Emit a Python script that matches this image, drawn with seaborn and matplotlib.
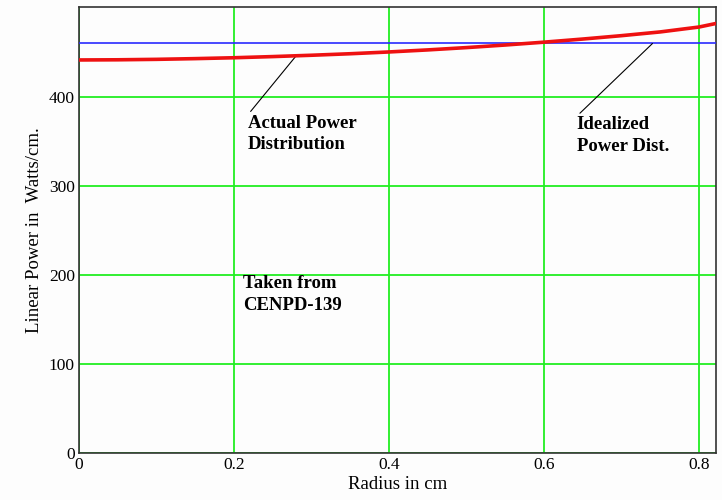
import matplotlib
matplotlib.use("Agg")
import matplotlib.pyplot as plt
import seaborn as sns
import pandas as pd

radius = [0.0, 0.05, 0.1, 0.15, 0.2, 0.25, 0.3, 0.35, 0.4, 0.45, 0.5, 0.55, 0.6, 0.65, 0.7, 0.75, 0.8, 0.822]
actual_power = [441.5, 441.7, 442.2, 443.0, 444.0, 445.3, 446.8, 448.5, 450.5, 452.8, 455.4, 458.3, 461.5, 465.0, 468.8, 473.0, 478.5, 482.5]
ideal_power = 460.0
x_ticks = [0, 0.2, 0.4, 0.6, 0.8]
x_tick_labels = ["0", "0.2", "0.4", "0.6", "0.8"]
y_ticks = [0, 100, 200, 300, 400]

sns.set_style("white")
plt.rcParams["font.family"] = ["Liberation Serif", "DejaVu Serif"]
plt.rcParams["text.color"] = "black"
plt.rcParams["axes.labelcolor"] = "black"
plt.rcParams["xtick.color"] = "black"
plt.rcParams["ytick.color"] = "black"

fig = plt.figure(figsize=(7.22, 5.0), dpi=100)
fig.patch.set_facecolor("#fdfdfd")
ax = fig.add_axes([0.1094, 0.094, 0.8823, 0.892])
ax.set_facecolor("#fdfdfd")

df = pd.DataFrame({"r": radius, "p": actual_power})
ax.set_xlim(0, 0.822)
ax.set_ylim(0, 501)
ax.set_xticks(x_ticks)
ax.set_xticklabels(x_tick_labels)
ax.set_yticks(y_ticks)
ax.grid(True, color="#22ee22", linewidth=1.3)
ax.set_axisbelow(True)

ax.axhline(ideal_power, color="#2a2aff", linewidth=1.2, zorder=3)
sns.lineplot(data=df, x="r", y="p", color="#ee1111", linewidth=2.6, ax=ax, zorder=4)

ax.set_xlabel("Radius in cm", fontsize=13.5, labelpad=2)
ax.set_ylabel("Linear Power in  Watts/cm.", fontsize=13.5, labelpad=4)
ax.tick_params(axis="both", labelsize=12.5, length=0, pad=3)
for s in ax.spines.values():
    s.set_color("#333333")
    s.set_linewidth(1.2)

ax.annotate("Actual Power\nDistribution", xy=(0.281, 447), xytext=(0.218, 380),
            fontsize=13.5, fontweight="bold", ha="left", va="top", linespacing=1.35,
            arrowprops=dict(arrowstyle="-", color="black", linewidth=0.8,
                            shrinkA=0, shrinkB=0, relpos=(0.0, 1.0)))
ax.annotate("Idealized\nPower Dist.", xy=(0.740, 460), xytext=(0.642, 378),
            fontsize=13.5, fontweight="bold", ha="left", va="top", linespacing=1.35,
            arrowprops=dict(arrowstyle="-", color="black", linewidth=0.8,
                            shrinkA=0, shrinkB=0, relpos=(0.0, 1.0)))
ax.text(0.212, 200, "Taken from\nCENPD-139", fontsize=13.5, fontweight="bold",
        ha="left", va="top", linespacing=1.35)

fig.savefig("out.png", dpi=100, facecolor=fig.get_facecolor())
